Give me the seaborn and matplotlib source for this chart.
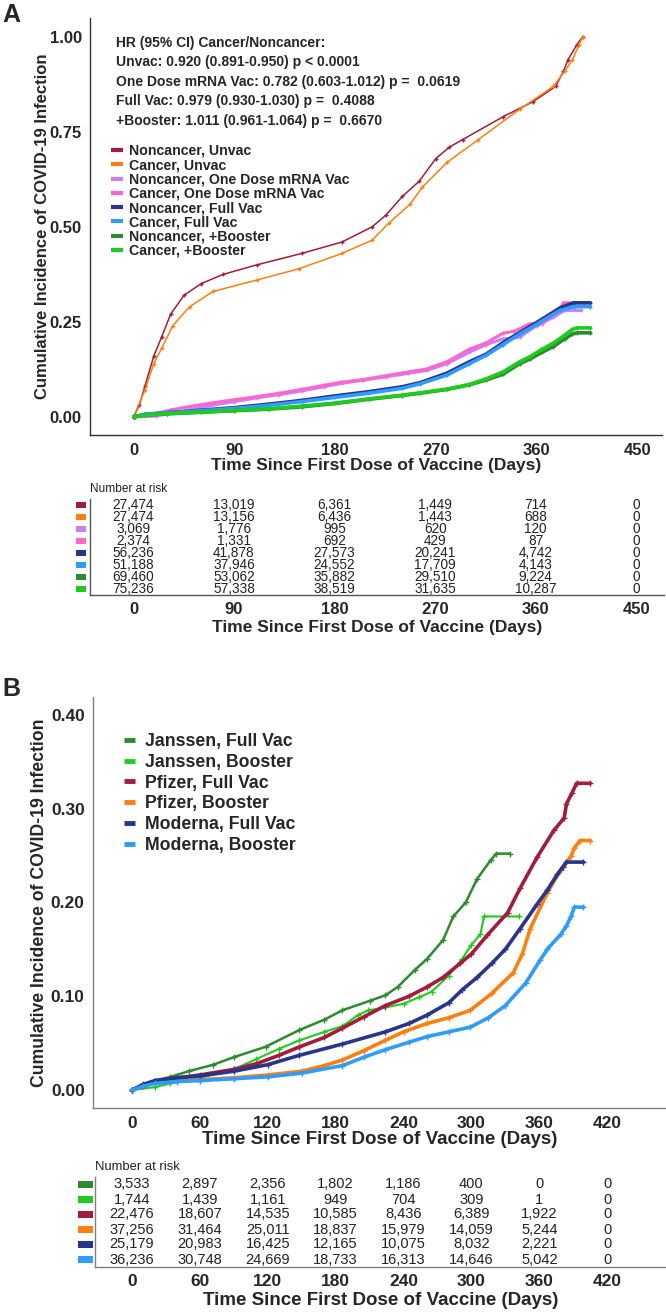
import matplotlib
matplotlib.use("Agg")
import matplotlib.pyplot as plt
import pandas as pd
import seaborn as sns
from matplotlib.lines import Line2D
from matplotlib.transforms import blended_transform_factory

sns.set_style("white")
plt.rcParams["font.family"] = ["Liberation Sans", "DejaVu Sans"]

W, H = 666, 1312

# ---------------- panel A: cancer vs noncancer ----------------
a_labels = [
    "Noncancer, Unvac", "Cancer, Unvac",
    "Noncancer, One Dose mRNA Vac", "Cancer, One Dose mRNA Vac",
    "Noncancer, Full Vac", "Cancer, Full Vac",
    "Noncancer, +Booster", "Cancer, +Booster",
]
a_colors = ["#a21c3b", "#ff7f0e", "#c880ff", "#ff66cc",
            "#27358a", "#2e9bff", "#2a8c2a", "#1fcb1f"]

a_days_nc_unvac = [0, 5, 10, 18, 25, 33, 45, 60, 80, 110, 150, 186, 213, 225, 240, 255,
                   270, 282, 294, 330, 357, 377, 384, 388, 396, 401]
a_inc_nc_unvac = [0, 0.03, 0.08, 0.16, 0.21, 0.27, 0.32, 0.35, 0.375, 0.40, 0.43, 0.46, 0.50,
                  0.53, 0.58, 0.62, 0.68, 0.71, 0.73, 0.79, 0.83, 0.87, 0.91, 0.94, 0.98, 1.0]
a_days_c_unvac = [0, 10, 18, 25, 35, 50, 71, 110, 148, 186, 213, 228, 247, 258, 280, 308,
                  345, 375, 385, 392, 398, 401]
a_inc_c_unvac = [0, 0.07, 0.14, 0.18, 0.24, 0.29, 0.33, 0.36, 0.39, 0.43, 0.465, 0.51, 0.56,
                 0.605, 0.67, 0.73, 0.81, 0.87, 0.91, 0.94, 0.98, 1.0]
a_days_nc_one = [0, 20, 40, 60, 90, 110, 130, 150, 170, 186, 205, 225, 245, 262, 280, 300,
                 315, 330, 345, 360, 375, 385, 400]
a_inc_nc_one = [0, 0.002, 0.012, 0.025, 0.04, 0.05, 0.058, 0.068, 0.079, 0.088, 0.096, 0.105,
                0.114, 0.122, 0.14, 0.17, 0.19, 0.205, 0.21, 0.24, 0.262, 0.28, 0.28]
a_days_c_one = [0, 15, 33, 50, 71, 90, 110, 130, 150, 170, 186, 205, 225, 245, 262, 280, 300,
                315, 330, 340, 354, 365, 375, 380, 384, 402]
a_inc_c_one = [0, 0.004, 0.018, 0.027, 0.037, 0.045, 0.053, 0.062, 0.072, 0.083, 0.091, 0.098,
               0.108, 0.118, 0.126, 0.145, 0.178, 0.195, 0.22, 0.225, 0.245, 0.245, 0.27, 0.28,
               0.30, 0.30]
a_days_nc_full = [0, 10, 25, 50, 90, 120, 150, 180, 210, 240, 256, 280, 300, 315, 330, 345,
                  361, 372, 381, 393, 408]
a_inc_nc_full = [0, 0.006, 0.01, 0.015, 0.024, 0.033, 0.043, 0.055, 0.066, 0.079, 0.09, 0.115,
                 0.145, 0.165, 0.195, 0.222, 0.25, 0.27, 0.287, 0.30, 0.30]
a_days_c_full = [0, 10, 25, 50, 90, 120, 150, 180, 210, 240, 256, 280, 300, 315, 330, 345,
                 361, 372, 381, 393, 408]
a_inc_c_full = [0, 0.006, 0.01, 0.014, 0.022, 0.03, 0.04, 0.051, 0.062, 0.075, 0.087, 0.11,
                0.14, 0.162, 0.19, 0.218, 0.245, 0.265, 0.28, 0.29, 0.29]
a_days_nc_boost = [0, 10, 30, 60, 90, 120, 150, 180, 210, 240, 256, 280, 300, 315, 330, 345,
                   354, 365, 375, 385, 392, 396, 408]
a_inc_nc_boost = [0, 0.004, 0.008, 0.012, 0.016, 0.02, 0.026, 0.035, 0.046, 0.056, 0.062, 0.072,
                  0.084, 0.097, 0.112, 0.14, 0.152, 0.17, 0.185, 0.205, 0.218, 0.221, 0.221]
a_days_c_boost = [0, 10, 30, 60, 90, 120, 150, 180, 210, 240, 256, 280, 300, 315, 330, 345,
                  354, 365, 375, 385, 392, 396, 408]
a_inc_c_boost = [0, 0.004, 0.008, 0.012, 0.017, 0.021, 0.028, 0.036, 0.047, 0.057, 0.063, 0.073,
                 0.085, 0.10, 0.118, 0.145, 0.158, 0.178, 0.194, 0.215, 0.23, 0.234, 0.234]

a_series = [
    (a_days_nc_unvac, a_inc_nc_unvac), (a_days_c_unvac, a_inc_c_unvac),
    (a_days_nc_one, a_inc_nc_one), (a_days_c_one, a_inc_c_one),
    (a_days_nc_full, a_inc_nc_full), (a_days_c_full, a_inc_c_full),
    (a_days_nc_boost, a_inc_nc_boost), (a_days_c_boost, a_inc_c_boost),
]
a_linewidths = [1.1, 1.1, 2.2, 2.2, 2.6, 2.6, 2.6, 2.6]

a_hr_lines = [
    "HR (95% CI) Cancer/Noncancer:",
    "Unvac: 0.920 (0.891-0.950) p < 0.0001",
    "One Dose mRNA Vac: 0.782 (0.603-1.012) p =  0.0619",
    "Full Vac: 0.979 (0.930-1.030) p =  0.4088",
    "+Booster: 1.011 (0.961-1.064) p =  0.6670",
]

a_risk_times = [0, 90, 180, 270, 360, 450]
a_risk = [
    [27474, 13019, 6361, 1449, 714, 0],
    [27474, 13156, 6436, 1443, 688, 0],
    [3069, 1776, 995, 620, 120, 0],
    [2374, 1331, 692, 429, 87, 0],
    [56236, 41878, 27573, 20241, 4742, 0],
    [51188, 37946, 24552, 17709, 4143, 0],
    [69460, 53062, 35882, 29510, 9224, 0],
    [75236, 57338, 38519, 31635, 10287, 0],
]

# ---------------- panel B: by vaccine brand ----------------
b_labels = ["Janssen, Full Vac", "Janssen, Booster", "Pfizer, Full Vac",
            "Pfizer, Booster", "Moderna, Full Vac", "Moderna, Booster"]
b_colors = ["#2a8c2a", "#1fcb1f", "#a21c3b", "#ff7f0e", "#27358a", "#2e9bff"]

b_days_j_full = [0, 10, 20, 34, 50, 72, 90, 118, 148, 170, 186, 210, 224, 235, 250, 261, 275,
                 284, 295, 305, 317, 322, 334]
b_inc_j_full = [0, 0.005, 0.01, 0.014, 0.02, 0.027, 0.035, 0.046, 0.064, 0.075, 0.085, 0.095,
                0.101, 0.11, 0.128, 0.14, 0.16, 0.185, 0.20, 0.225, 0.245, 0.252, 0.252]
b_days_j_boost = [0, 20, 34, 60, 90, 110, 130, 148, 170, 186, 200, 209, 224, 240, 254, 265,
                  280, 292, 300, 308, 311, 342]
b_inc_j_boost = [0, 0.003, 0.007, 0.013, 0.022, 0.033, 0.044, 0.053, 0.062, 0.068, 0.08, 0.085,
                 0.088, 0.092, 0.099, 0.105, 0.122, 0.14, 0.155, 0.166, 0.185, 0.185]
b_days_p_full = [0, 10, 20, 34, 60, 90, 110, 130, 148, 170, 186, 205, 224, 245, 261, 275, 290,
                 300, 314, 332, 343, 358, 373, 382, 384, 389, 393, 405]
b_inc_p_full = [0, 0.004, 0.009, 0.012, 0.016, 0.022, 0.028, 0.037, 0.046, 0.056, 0.066, 0.078,
                0.09, 0.10, 0.11, 0.12, 0.135, 0.145, 0.165, 0.189, 0.215, 0.248, 0.277, 0.29,
                0.305, 0.317, 0.327, 0.327]
b_days_p_boost = [0, 10, 20, 40, 60, 90, 120, 150, 170, 186, 205, 224, 240, 261, 280, 299, 318,
                  337, 345, 352, 367, 379, 388, 391, 396, 405]
b_inc_p_boost = [0, 0.005, 0.008, 0.01, 0.011, 0.013, 0.016, 0.02, 0.026, 0.032, 0.042, 0.053,
                 0.062, 0.071, 0.077, 0.085, 0.103, 0.125, 0.145, 0.172, 0.21, 0.235, 0.249,
                 0.258, 0.266, 0.266]
b_days_m_full = [0, 10, 20, 40, 60, 90, 120, 148, 186, 224, 245, 261, 280, 292, 305, 318, 330,
                 343, 358, 367, 376, 381, 384, 399]
b_inc_m_full = [0, 0.006, 0.01, 0.013, 0.015, 0.02, 0.027, 0.037, 0.049, 0.062, 0.071, 0.08,
                0.093, 0.107, 0.12, 0.135, 0.15, 0.172, 0.198, 0.213, 0.23, 0.238, 0.243, 0.243]
b_days_m_boost = [0, 10, 20, 40, 60, 90, 120, 150, 186, 205, 224, 245, 261, 280, 299, 315, 330,
                  348, 361, 367, 379, 384, 388, 391, 399]
b_inc_m_boost = [0, 0.004, 0.007, 0.009, 0.01, 0.012, 0.014, 0.018, 0.026, 0.035, 0.043, 0.051,
                 0.057, 0.062, 0.067, 0.077, 0.09, 0.114, 0.139, 0.15, 0.166, 0.175, 0.185,
                 0.195, 0.195]

b_series = [
    (b_days_j_full, b_inc_j_full), (b_days_j_boost, b_inc_j_boost),
    (b_days_p_full, b_inc_p_full), (b_days_p_boost, b_inc_p_boost),
    (b_days_m_full, b_inc_m_full), (b_days_m_boost, b_inc_m_boost),
]
b_linewidths = [1.8, 1.5, 2.6, 2.6, 2.6, 2.6]

b_risk_times = [0, 60, 120, 180, 240, 300, 360, 420]
b_risk = [
    [3533, 2897, 2356, 1802, 1186, 400, 0, 0],
    [1744, 1439, 1161, 949, 704, 309, 1, 0],
    [22476, 18607, 14535, 10585, 8436, 6389, 1922, 0],
    [37256, 31464, 25011, 18837, 15979, 14059, 5244, 0],
    [25179, 20983, 16425, 12165, 10075, 8032, 2221, 0],
    [36236, 30748, 24669, 18733, 16313, 14646, 5042, 0],
]

XLABEL = "Time Since First Dose of Vaccine (Days)"
YLABEL = "Cumulative Incidence of COVID-19 Infection"


def rect(left, top, right, bottom):
    return [left / W, 1 - bottom / H, (right - left) / W, (bottom - top) / H]


def style_axis(ax, spine_color, tick_size):
    for side in ["top", "right"]:
        ax.spines[side].set_visible(False)
    for side in ["left", "bottom"]:
        ax.spines[side].set_color(spine_color)
        ax.spines[side].set_linewidth(1.0)
    ax.tick_params(axis="both", length=3, width=0.8, color=spine_color,
                   labelsize=tick_size, pad=3)
    for lab in ax.get_xticklabels() + ax.get_yticklabels():
        lab.set_fontweight("bold")


def draw_curves(ax, colors, series, widths, ms):
    for color, (days, inc), lw in zip(colors, series, widths):
        df = pd.DataFrame({"day": days, "incidence": inc})
        sns.lineplot(data=df, x="day", y="incidence", ax=ax, color=color, lw=lw,
                     estimator=None, sort=False, marker="+", markersize=ms,
                     markeredgewidth=1.0, markeredgecolor=color, markerfacecolor=color)


def draw_risk_table(ax, times, risk, colors, xlim, font_size, tick_size, xlabel_size,
                    spine_color, title_size, key_offset, key_size, key_ratio):
    n = len(risk)
    for i, row in enumerate(risk):
        for t, v in zip(times, row):
            ax.text(t, i, f"{v:,}", ha="center", va="center", fontsize=font_size,
                    color="#222222")
    ax.set_xlim(*xlim)
    ax.set_ylim(n - 0.5, -0.5)
    ax.set_xticks(times)
    ax.set_yticks([])
    # coloured keys left of each row (like the survminer risk table)
    key_marker = [(-key_ratio, -1), (key_ratio, -1), (key_ratio, 1), (-key_ratio, 1),
                  (-key_ratio, -1)]
    trans = blended_transform_factory(ax.transAxes, ax.transData)
    ax.scatter([key_offset] * n, list(range(n)), marker=key_marker, s=key_size,
               c=colors, linewidths=0, transform=trans, clip_on=False)
    style_axis(ax, spine_color, tick_size)
    ax.tick_params(axis="x", length=0, pad=5)
    ax.set_xlabel(XLABEL, fontsize=xlabel_size, fontweight="bold", labelpad=2)
    ax.set_ylabel("")
    ax.set_title("Number at risk", loc="left", fontsize=title_size, pad=5,
                 fontweight="normal", color="#222222")


fig = plt.figure(figsize=(W / 100, H / 100), dpi=100)

# ---- panel A curves ----
ax_a = fig.add_axes(rect(90, 18, 662, 435))
draw_curves(ax_a, a_colors, a_series, a_linewidths, 3.5)
ax_a.set_xlim(-39, 472)
ax_a.set_ylim(-0.048, 1.05)
ax_a.set_xticks(a_risk_times)
ax_a.set_yticks([0, 0.25, 0.5, 0.75, 1.0])
ax_a.set_yticklabels(["0.00", "0.25", "0.50", "0.75", "1.00"])
style_axis(ax_a, "#333333", 12)
ax_a.set_xlabel(XLABEL, fontsize=12.5, fontweight="bold", labelpad=0)
ax_a.set_ylabel(YLABEL, fontsize=12, fontweight="bold")
ax_a.yaxis.set_label_coords(-0.07, 0.5)

for i, line in enumerate(a_hr_lines):
    ax_a.text(0.045, 0.94 - i * 0.0465, line, transform=ax_a.transAxes, fontsize=10,
              fontweight="bold", va="center", ha="left")

handles_a = [Line2D([], [], color=c, lw=3, solid_capstyle="butt") for c in a_colors]
ax_a.legend(handles_a, a_labels, loc="upper left", bbox_to_anchor=(0.036, 0.698),
            frameon=False, handlelength=0.85, handletextpad=0.45,
            labelspacing=0.02, borderpad=0, borderaxespad=0,
            prop={"weight": "bold", "size": 10.2})

ax_ta = fig.add_axes(rect(90, 499, 664, 595))
draw_risk_table(ax_ta, a_risk_times, a_risk, a_colors, (-39, 475), 9.8, 12, 12.5,
                "#555555", 8.6, -0.0157, 62, 2.0)

# ---- panel B curves ----
ax_b = fig.add_axes(rect(93, 697, 666, 1108))
draw_curves(ax_b, b_colors, b_series, b_linewidths, 5)
ax_b.set_xlim(-34.5, 472)
ax_b.set_ylim(-0.0192, 0.419)
ax_b.set_xticks(b_risk_times)
ax_b.set_yticks([0, 0.1, 0.2, 0.3, 0.4])
ax_b.set_yticklabels(["0.00", "0.10", "0.20", "0.30", "0.40"])
style_axis(ax_b, "#808080", 12.5)
ax_b.set_xlabel(XLABEL, fontsize=13.5, fontweight="bold", labelpad=0)
ax_b.set_ylabel(YLABEL, fontsize=12.7, fontweight="bold")
ax_b.yaxis.set_label_coords(-0.078, 0.5)

handles_b = [Line2D([], [], color=c, lw=3.5, solid_capstyle="butt") for c in b_colors]
ax_b.legend(handles_b, b_labels, loc="upper left", bbox_to_anchor=(0.054, 0.912),
            frameon=False, handlelength=0.65, handletextpad=0.55,
            labelspacing=0.21, borderpad=0, borderaxespad=0,
            prop={"weight": "bold", "size": 12.7})

ax_tb = fig.add_axes(rect(95, 1177, 666, 1267))
draw_risk_table(ax_tb, b_risk_times, b_risk, b_colors, (-32.7, 472), 10.5, 12.5, 13.5,
                "#808080", 9.4, -0.0166, 118, 2.4)

fig.text(11 / W, 1 - 15 / H, "A", fontsize=18, fontweight="bold", ha="center", va="center")
fig.text(11 / W, 1 - 689 / H, "B", fontsize=18, fontweight="bold", ha="center", va="center")

fig.savefig("out.png", dpi=100)
plt.close(fig)
